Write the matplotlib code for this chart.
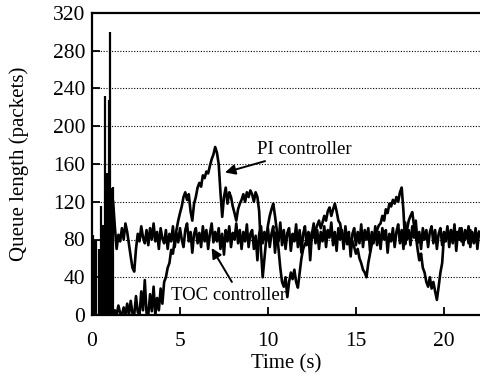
import numpy as np
import matplotlib
matplotlib.use("Agg")
import matplotlib.pyplot as plt

# Initial transient (vertical bursts) at start-up
burst_t = [0.03, 0.08, 0.14, 0.25, 0.38, 0.5, 0.62, 0.72, 0.85, 0.94, 1.0, 1.08, 1.17]
burst_q = [85, 62, 78, 80, 70, 116, 95, 232, 150, 228, 300, 135, 136]

# Sampled time grid for both controllers (s)
t_start, t_step = 1.2, 0.1

toc_q = [
    120, 93, 70, 85, 78, 92, 80, 97, 88,
    75, 62, 50, 46, 70, 86, 78, 94, 82, 76,
    90, 74, 92, 80, 97, 78, 88, 70, 92, 81,
    76, 90, 70, 86, 78, 94, 72, 87, 77, 92,
    80, 72, 90, 97, 78, 88, 66, 86, 92, 76,
    87, 72, 94, 78, 90, 70, 86, 97, 77, 88,
    78, 92, 70, 86, 64, 90, 78, 94, 72, 87,
    80, 97, 76, 90, 70, 88, 78, 96, 72, 86,
    90, 70, 84, 58, 86, 94, 76, 88, 78, 92,
    72, 86, 94, 66, 88, 78, 98, 74, 90, 70,
    87, 92, 68, 86, 78, 96, 72, 90, 66, 86,
    94, 74, 88, 58, 86, 97, 76, 90, 70, 88,
    78, 94, 72, 90, 82, 98, 74, 88, 68, 92,
    80, 90, 70, 94, 78, 88, 62, 86, 92, 74,
    88, 76, 96, 72, 90, 80, 92, 68, 88, 76,
    94, 74, 88, 70, 92, 80, 90, 66, 86, 78,
    92, 72, 88, 96, 76, 90, 70, 98, 80, 90,
    74, 94, 82, 100, 76, 88, 70, 92, 80, 90,
    72, 88, 94, 76, 90, 70, 86, 92, 74, 88,
    80, 94, 72, 90, 78, 96, 68, 88, 80, 92,
    74, 90, 82, 94, 72, 88, 76, 92, 70, 88,
]

pi_q = [
    0, 5, 0, 10, 2, 0, 8, 0, 12,
    0, 15, 2, 0, 20, 3, 0, 25, 5, 37,
    2, 0, 22, 4, 30, 0, 18, 5, 28, 12,
    35, 40, 50, 55, 69, 65, 80, 90, 100, 108,
    115, 125, 130, 122, 128, 110, 100, 118, 125, 135,
    140, 136, 148, 145, 152, 150, 158, 165, 170, 178,
    172, 160, 130, 104, 125, 135, 118, 130, 125, 115,
    108, 100, 112, 118, 122, 128, 120, 130, 125, 132,
    128, 120, 130, 125, 110, 70, 40, 60, 80, 95,
    105, 112, 118, 105, 90, 70, 50, 35, 30, 40,
    19, 35, 45, 38, 48, 35, 29, 45, 60, 70,
    75, 79, 85, 78, 88, 82, 90, 95, 100, 92,
    98, 105, 100, 110, 114, 105, 112, 118, 110, 100,
    97, 85, 78, 82, 75, 80, 70, 78, 72, 65,
    70, 60, 55, 48, 45, 40, 55, 65, 75, 82,
    85, 90, 95, 97, 105, 100, 112, 108, 118, 115,
    122, 118, 125, 120, 130, 135, 110, 75, 90, 100,
    105, 109, 95, 85, 70, 58, 65, 50, 45, 35,
    30, 40, 28, 35, 25, 16, 30, 45, 55, 83,
    78, 86, 80, 90, 76, 84, 88, 80, 92, 78,
    85, 80, 88, 76, 90, 82, 86, 78, 84, 88,
]

x_ticks = [0, 5, 10, 15, 20]
y_ticks = [0, 40, 80, 120, 160, 200, 240, 280, 320]

plt.rcParams['font.family'] = ['Liberation Serif', 'DejaVu Serif']

W, H = 480, 376
fig = plt.figure(figsize=(W/100, H/100), dpi=100)
ax = fig.add_axes([92/W, 1-315/H, 1-92/W, (315-13)/H])

t_toc = t_start + t_step*np.arange(len(toc_q))
t_pi = t_start + t_step*np.arange(len(pi_q))

ax.vlines(burst_t, 0, burst_q, color='black', lw=1.6)
ax.plot(t_pi, pi_q, color='black', lw=1.9)
ax.plot(t_toc, toc_q, color='black', lw=1.9)

ax.set_xlim(0, 22.05)
ax.set_ylim(0, 320)
ax.set_xticks(x_ticks)
ax.set_yticks(y_ticks)
for yv in y_ticks[1:-1]:
    ax.axhline(yv, color='black', lw=0.8, ls=(0, (1, 1.5)), zorder=0)

ax.tick_params(direction='in', length=6, width=1.3, labelsize=15.5)
ax.tick_params(axis='x', pad=12)
ax.tick_params(axis='y', pad=5)
for s in ['left', 'bottom', 'top']:
    ax.spines[s].set_linewidth(1.6)
ax.spines['right'].set_visible(False)

ax.set_xlabel('Time (s)', fontsize=15)
ax.set_ylabel('Queue length (packets)', fontsize=15)
ax.xaxis.set_label_coords(0.5, (315-354)/302)
ax.yaxis.set_label_coords((29-92)/388, 0.5)

ax.annotate('PI controller', xy=(7.56, 151), xytext=(9.4, 175),
            fontsize=13.5, va='center', ha='left',
            arrowprops=dict(arrowstyle='-|>', color='black', lw=1.4,
                            mutation_scale=15, shrinkA=0, shrinkB=0))
ax.annotate('', xy=(6.8, 71), xytext=(7.95, 35),
            arrowprops=dict(arrowstyle='-|>', color='black', lw=1.4,
                            mutation_scale=15, shrinkA=0, shrinkB=0))
ax.text(4.5, 21, 'TOC controller', fontsize=13.5, va='center', ha='left')

fig.savefig('out.png', dpi=100)
